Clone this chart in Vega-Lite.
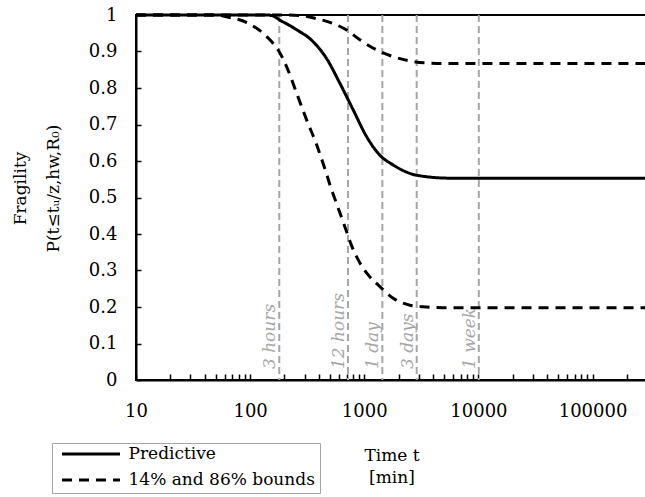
{
  "$schema": "https://vega.github.io/schema/vega-lite/v6.json",
  "autosize": {"type": "none"},
  "padding": {"left": 136, "top": 15, "right": 0, "bottom": 117},
  "width": 511,
  "height": 365,
  "background": "white",
  "config": {
    "font": "DejaVu Serif",
    "view": {"stroke": "black", "strokeWidth": 2},
    "axis": {
      "grid": false,
      "domainColor": "black",
      "domainWidth": 2,
      "tickColor": "black",
      "tickWidth": 1.5,
      "labelColor": "black",
      "titleColor": "black",
      "labelFont": "DejaVu Serif",
      "titleFont": "DejaVu Serif",
      "titleFontWeight": "normal",
      "labelOverlap": false,
      "labelFlush": false,
      "labelFontSize": 18,
      "titleFontSize": 17
    },
    "axisX": {"tickSize": -6, "labelPadding": 28},
    "axisY": {"tickSize": -5, "labelPadding": 24}
  },
  "datasets": {
    "curves": [
      {"t": 10, "p": 1, "series": "pred", "type": "Predictive"},
      {"t": 100, "p": 1, "series": "pred", "type": "Predictive"},
      {"t": 140, "p": 1, "series": "pred", "type": "Predictive"},
      {"t": 160, "p": 0.997, "series": "pred", "type": "Predictive"},
      {"t": 182, "p": 0.986, "series": "pred", "type": "Predictive"},
      {"t": 220, "p": 0.972, "series": "pred", "type": "Predictive"},
      {"t": 273, "p": 0.954, "series": "pred", "type": "Predictive"},
      {"t": 320, "p": 0.94, "series": "pred", "type": "Predictive"},
      {"t": 369, "p": 0.922, "series": "pred", "type": "Predictive"},
      {"t": 467, "p": 0.881, "series": "pred", "type": "Predictive"},
      {"t": 611, "p": 0.813, "series": "pred", "type": "Predictive"},
      {"t": 800, "p": 0.74, "series": "pred", "type": "Predictive"},
      {"t": 1047, "p": 0.667, "series": "pred", "type": "Predictive"},
      {"t": 1370, "p": 0.616, "series": "pred", "type": "Predictive"},
      {"t": 1793, "p": 0.589, "series": "pred", "type": "Predictive"},
      {"t": 2507, "p": 0.566, "series": "pred", "type": "Predictive"},
      {"t": 3513, "p": 0.557, "series": "pred", "type": "Predictive"},
      {"t": 5623, "p": 0.553, "series": "pred", "type": "Predictive"},
      {"t": 10000, "p": 0.553, "series": "pred", "type": "Predictive"},
      {"t": 300000, "p": 0.553, "series": "pred", "type": "Predictive"},
      {"t": 10, "p": 1, "series": "low", "type": "14% and 86% bounds"},
      {"t": 50, "p": 1, "series": "low", "type": "14% and 86% bounds"},
      {"t": 62, "p": 0.995, "series": "low", "type": "14% and 86% bounds"},
      {"t": 99.5, "p": 0.975, "series": "low", "type": "14% and 86% bounds"},
      {"t": 149, "p": 0.932, "series": "low", "type": "14% and 86% bounds"},
      {"t": 176, "p": 0.904, "series": "low", "type": "14% and 86% bounds"},
      {"t": 209, "p": 0.858, "series": "low", "type": "14% and 86% bounds"},
      {"t": 256, "p": 0.785, "series": "low", "type": "14% and 86% bounds"},
      {"t": 313, "p": 0.712, "series": "low", "type": "14% and 86% bounds"},
      {"t": 382, "p": 0.645, "series": "low", "type": "14% and 86% bounds"},
      {"t": 423, "p": 0.605, "series": "low", "type": "14% and 86% bounds"},
      {"t": 467, "p": 0.565, "series": "low", "type": "14% and 86% bounds"},
      {"t": 500, "p": 0.535, "series": "low", "type": "14% and 86% bounds"},
      {"t": 571, "p": 0.484, "series": "low", "type": "14% and 86% bounds"},
      {"t": 676, "p": 0.42, "series": "low", "type": "14% and 86% bounds"},
      {"t": 774, "p": 0.368, "series": "low", "type": "14% and 86% bounds"},
      {"t": 885, "p": 0.329, "series": "low", "type": "14% and 86% bounds"},
      {"t": 1082, "p": 0.288, "series": "low", "type": "14% and 86% bounds"},
      {"t": 1370, "p": 0.256, "series": "low", "type": "14% and 86% bounds"},
      {"t": 1793, "p": 0.224, "series": "low", "type": "14% and 86% bounds"},
      {"t": 2507, "p": 0.205, "series": "low", "type": "14% and 86% bounds"},
      {"t": 3281, "p": 0.201, "series": "low", "type": "14% and 86% bounds"},
      {"t": 4909, "p": 0.198, "series": "low", "type": "14% and 86% bounds"},
      {"t": 300000, "p": 0.198, "series": "low", "type": "14% and 86% bounds"},
      {"t": 10, "p": 1, "series": "up", "type": "14% and 86% bounds"},
      {"t": 200, "p": 1, "series": "up", "type": "14% and 86% bounds"},
      {"t": 300, "p": 0.997, "series": "up", "type": "14% and 86% bounds"},
      {"t": 382, "p": 0.99, "series": "up", "type": "14% and 86% bounds"},
      {"t": 571, "p": 0.973, "series": "up", "type": "14% and 86% bounds"},
      {"t": 700, "p": 0.959, "series": "up", "type": "14% and 86% bounds"},
      {"t": 915, "p": 0.932, "series": "up", "type": "14% and 86% bounds"},
      {"t": 1370, "p": 0.9, "series": "up", "type": "14% and 86% bounds"},
      {"t": 1793, "p": 0.886, "series": "up", "type": "14% and 86% bounds"},
      {"t": 2507, "p": 0.874, "series": "up", "type": "14% and 86% bounds"},
      {"t": 3069, "p": 0.87, "series": "up", "type": "14% and 86% bounds"},
      {"t": 5623, "p": 0.867, "series": "up", "type": "14% and 86% bounds"},
      {"t": 300000, "p": 0.867, "series": "up", "type": "14% and 86% bounds"}
    ],
    "markers": [
      {"t": 180, "label": "3 hours"},
      {"t": 720, "label": "12 hours"},
      {"t": 1440, "label": "1 day"},
      {"t": 2880, "label": "3 days"},
      {"t": 10080, "label": "1 week"}
    ]
  },
  "layer": [
    {
      "data": {"name": "markers"},
      "mark": {"type": "rule", "color": "#a6a6a6", "strokeWidth": 2, "strokeDash": [7, 4]},
      "encoding": {
        "x": {"field": "t", "type": "quantitative", "scale": {"type": "log", "nice": false}}
      }
    },
    {
      "data": {"name": "markers"},
      "mark": {"type": "text", "angle": 270, "align": "left", "baseline": "alphabetic", "dy": -4, "color": "#a6a6a6", "font": "DejaVu Serif", "fontStyle": "italic", "fontSize": 17},
      "encoding": {
        "x": {"field": "t", "type": "quantitative", "scale": {"type": "log", "nice": false}},
        "y": {
          "datum": 0.03,
          "type": "quantitative",
          "axis": {
            "values": [0, 0.1, 0.2, 0.3, 0.4, 0.5, 0.6, 0.7, 0.8, 0.9, 1],
            "format": ".1~f"
          }
        },
        "text": {"field": "label"}
      }
    },
    {
      "data": {"name": "curves"},
      "mark": {"type": "line", "color": "black", "strokeWidth": 3, "interpolate": "monotone"},
      "encoding": {
        "x": {
          "field": "t",
          "type": "quantitative",
          "scale": {"type": "log", "domain": [10, 300000], "nice": false},
          "axis": {
            "values": [10, 20, 30, 40, 50, 60, 70, 80, 90, 100, 200, 300, 400, 500, 600, 700, 800, 900, 1000, 2000, 3000, 4000, 5000, 6000, 7000, 8000, 9000, 10000, 20000, 30000, 40000, 50000, 60000, 70000, 80000, 90000, 100000, 200000, 300000],
            "format": "d",
            "labelExpr": "indexof([10,100,1000,10000,100000], datum.value) >= 0 ? datum.label : ''",
            "title": ["Time t", "[min]"],
            "titleLineHeight": 22,
            "titleBaseline": "top",
            "titleY": 67
          }
        },
        "y": {
          "field": "p",
          "type": "quantitative",
          "scale": {"domain": [0, 1], "nice": false},
          "axis": {
            "values": [0, 0.1, 0.2, 0.3, 0.4, 0.5, 0.6, 0.7, 0.8, 0.9, 1],
            "format": ".1~f",
            "title": ["Fragility", "P(t≤tᵤ/z,hw,R₀)"],
            "titleLineHeight": 33,
            "titleX": -107,
            "titleY": 173
          }
        },
        "detail": {"field": "series"},
        "strokeDash": {
          "field": "type",
          "type": "nominal",
          "scale": {"domain": ["Predictive", "14% and 86% bounds"], "range": [[1, 0], [10, 7]]},
          "legend": {
            "orient": "none",
            "legendX": -84,
            "legendY": 428,
            "title": null,
            "symbolType": "stroke",
            "symbolSize": 3364,
            "symbolStrokeWidth": 3,
            "symbolStrokeColor": "black",
            "labelFont": "DejaVu Serif",
            "labelFontSize": 17,
            "labelColor": "black",
            "labelLimit": 400,
            "labelOffset": 7,
            "symbolOffset": 3.5,
            "clipHeight": 12,
            "rowPadding": 9,
            "padding": 5,
            "strokeColor": "#a6a6a6",
            "fillColor": "white"
          }
        }
      }
    }
  ]
}
